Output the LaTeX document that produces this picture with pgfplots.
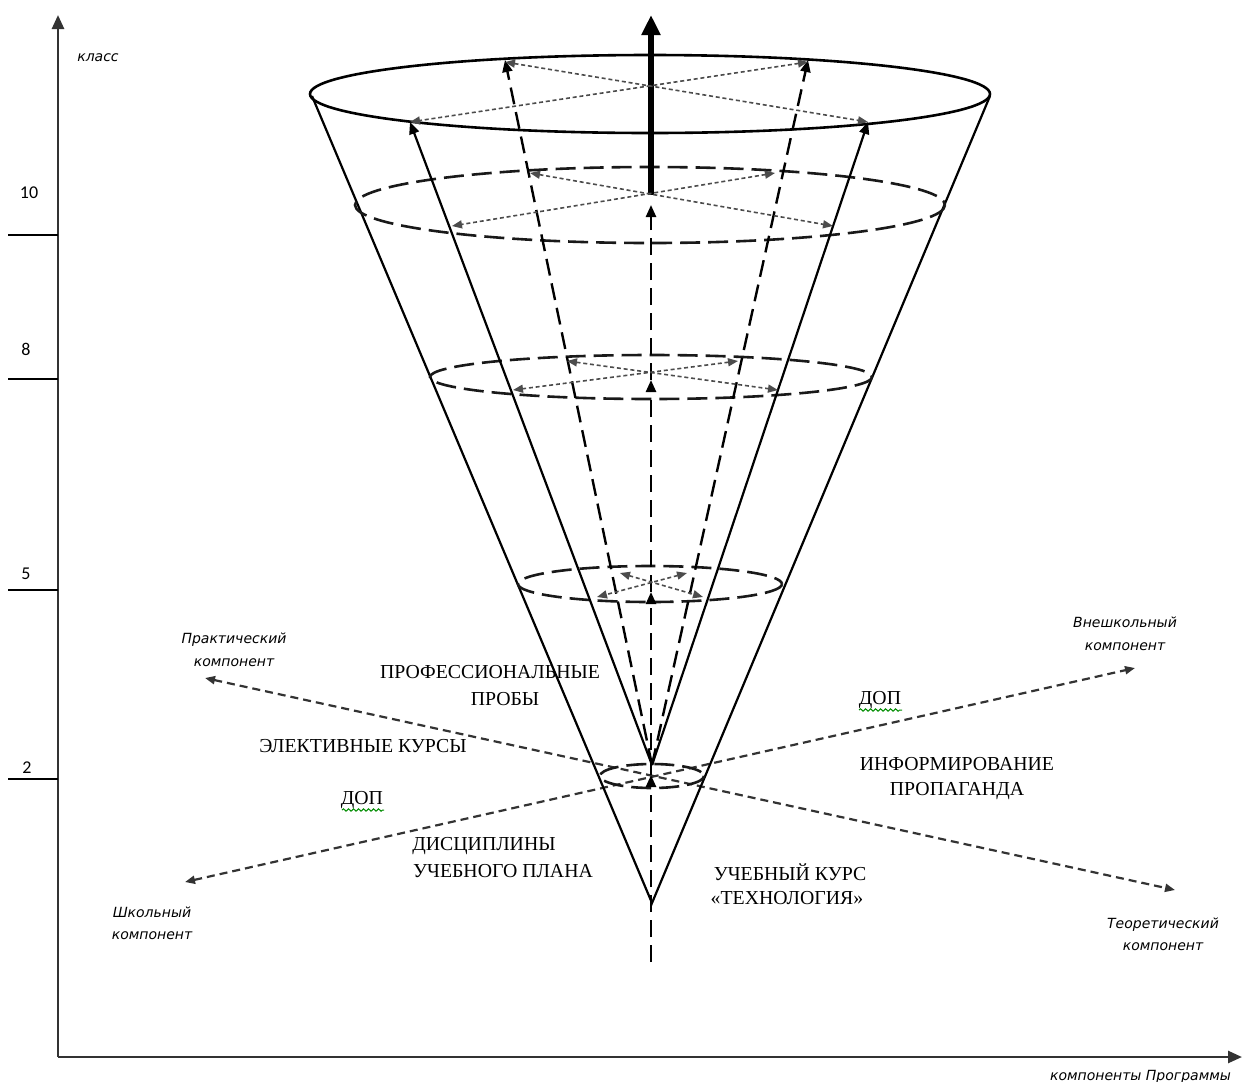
\documentclass[border=0pt]{standalone}
\usepackage{fontspec}
\setmainfont{Liberation Serif}
\newfontfamily\itf{DejaVu Sans}
\newfontfamily\calf{Carlito}
\usepackage{pgfplots}
\pgfplotsset{compat=1.18}
\usetikzlibrary{arrows.meta,decorations.pathmorphing}
\tikzset{
  ah/.style={-{Triangle[length=6pt,width=5pt]}},
  dah/.style={{Triangle[length=5pt,width=4pt]}-{Triangle[length=5pt,width=4pt]}},
  solidl/.style={line width=1.1pt,black},
  longdash/.style={line width=1.2pt,black,dash pattern=on 8.5pt off 4pt},
  elldash/.style={line width=1.3pt,black!90,dash pattern=on 10pt off 4pt},
  dotl/.style={line width=0.8pt,black!70,dash pattern=on 2pt off 1.4pt},
  compl/.style={line width=1.1pt,black!80,dash pattern=on 4pt off 2.5pt},
  big/.style={font=\fontsize{9.9}{11}\selectfont},
  sml/.style={font=\itf\itshape\fontsize{7}{8}\selectfont},
  tk/.style={font=\calf\fontsize{9}{10}\selectfont},
}
\begin{document}
\begin{tikzpicture}
\begin{axis}[
  width=621.5pt, height=541pt, scale only axis,
  xmin=0, xmax=1243, ymin=0, ymax=1082, y dir=reverse,
  hide axis, clip=false,
]
% coordinate axes
\addplot[line width=1.3pt, black!80, mark=none, -{Triangle[length=7pt,width=6pt]}] coordinates {(58,1057) (58,15)};
\addplot[line width=1.3pt, black!80, mark=none, -{Triangle[length=7pt,width=6pt]}] coordinates {(58,1057) (1242,1057)};
\addplot[line width=0.8pt, black, mark=none] coordinates {(8,235) (58,235)};
\addplot[line width=0.8pt, black, mark=none] coordinates {(8,379) (58,379)};
\addplot[line width=0.8pt, black, mark=none] coordinates {(8,590) (58,590)};
\addplot[line width=0.8pt, black, mark=none] coordinates {(8,779) (58,779)};
\node[tk] at (axis cs:29,193) {10};
\node[tk] at (axis cs:26,349) {8};
\node[tk] at (axis cs:26,574) {5};
\node[tk] at (axis cs:27,768) {2};
\node[sml] at (axis cs:98,58) {класс};
\node[sml, anchor=west] at (axis cs:1043,1077) {компоненты Программы};

% component axes
\addplot[compl, dah, mark=none] coordinates {(205,678) (1175,890)};
\addplot[compl, dah, mark=none] coordinates {(185,882) (1135,668)};

% cone outline
\addplot[solidl, mark=none] coordinates {(312,96) (652,903) (990,96)};
\draw[line width=1.3pt] (axis cs:650,94) ellipse [x radius=340, y radius=39];
\draw[elldash] (axis cs:650,205) ellipse [x radius=295, y radius=38];
\draw[elldash] (axis cs:651,377) ellipse [x radius=221, y radius=22];
\draw[elldash] (axis cs:650,584) ellipse [x radius=132, y radius=18];
\draw[elldash] (axis cs:652,776) ellipse [x radius=52, y radius=12];

% inner solid arrows
\addplot[solidl, ah, mark=none] coordinates {(652,765) (410,122)};
\addplot[solidl, ah, mark=none] coordinates {(652,765) (868,122)};
% inner dashed arrows
\addplot[longdash, ah, mark=none] coordinates {(652,765) (505,60)};
\addplot[longdash, ah, mark=none] coordinates {(652,765) (808,60)};
% central axis
\addplot[longdash, ah, mark=none] coordinates {(651,962) (651,775)};
\addplot[longdash, ah, mark=none] coordinates {(651,775) (651,592)};
\addplot[longdash, ah, mark=none] coordinates {(651,592) (651,380)};
\addplot[longdash, ah, mark=none] coordinates {(651,380) (651,205)};
\addplot[line width=2.8pt, black, mark=none, -{Triangle[length=10pt,width=9pt]}] coordinates {(651,195) (651,15)};

% dotted crossings
\addplot[dotl, dah, mark=none] coordinates {(505,62) (868,122)};
\addplot[dotl, dah, mark=none] coordinates {(808,62) (410,122)};
\addplot[dotl, dah, mark=none] coordinates {(530,173) (833,226)};
\addplot[dotl, dah, mark=none] coordinates {(775,173) (452,226)};
\addplot[dotl, dah, mark=none] coordinates {(567,361) (778,390)};
\addplot[dotl, dah, mark=none] coordinates {(738,361) (513,390)};
\addplot[dotl, dah, mark=none] coordinates {(620,573) (703,597)};
\addplot[dotl, dah, mark=none] coordinates {(687,573) (597,597)};

% big labels
\node[big] at (axis cs:490,672) {ПРОФЕССИОНАЛЬНЫЕ};
\node[big] at (axis cs:505,699) {ПРОБЫ};
\node[big] at (axis cs:363,746) {ЭЛЕКТИВНЫЕ КУРСЫ};
\node[big] at (axis cs:362,800) {ДОП};
\node[big] at (axis cs:484,846) {ДИСЦИПЛИНЫ};
\node[big] at (axis cs:503,871) {УЧЕБНОГО ПЛАНА};
\node[big] at (axis cs:880,700) {ДОП};
\node[big] at (axis cs:957,764) {ИНФОРМИРОВАНИЕ};
\node[big] at (axis cs:957,791) {ПРОПАГАНДА};
\node[big] at (axis cs:790,872) {УЧЕБНЫЙ КУРС};
\node[big] at (axis cs:787,898) {«ТЕХНОЛОГИЯ»};
\draw[green!55!black, line width=0.5pt, decorate, decoration={snake, amplitude=0.6pt, segment length=2.5pt}] (axis cs:342,810) -- (axis cs:384,810);
\draw[green!55!black, line width=0.5pt, decorate, decoration={snake, amplitude=0.6pt, segment length=2.5pt}] (axis cs:859,710) -- (axis cs:902,710);

% small italic labels
\node[sml] at (axis cs:234,640) {Практический};
\node[sml] at (axis cs:234,663) {компонент};
\node[sml] at (axis cs:1125,622) {Внешкольный};
\node[sml] at (axis cs:1125,647) {компонент};
\node[sml] at (axis cs:152,912) {Школьный};
\node[sml] at (axis cs:152,936) {компонент};
\node[sml] at (axis cs:1163,925) {Теоретический};
\node[sml] at (axis cs:1163,947) {компонент};
\end{axis}
\pgfresetboundingbox
\path (current axis.south west) rectangle (current axis.north east);
\end{tikzpicture}
\end{document}
